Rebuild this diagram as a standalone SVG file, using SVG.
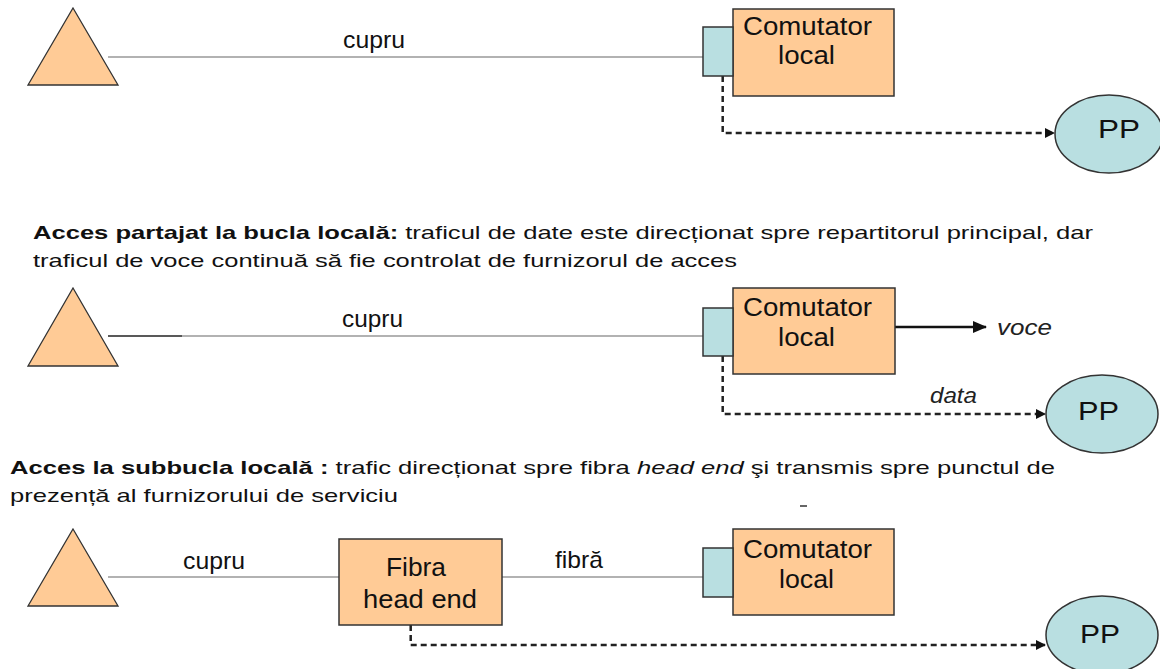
<svg xmlns="http://www.w3.org/2000/svg" width="1160" height="669" viewBox="0 0 1160 669">
<style>
text{font-family:"Liberation Sans",Arial,sans-serif;fill:#111}
.node{fill:#FFCB96;stroke:#333;stroke-width:1.5}
.port{fill:#B9DFE1;stroke:#333;stroke-width:1.5}
.pp{fill:#B9DFE1;stroke:#333;stroke-width:1.5}
.tri{fill:#FFCB96;stroke:#333;stroke-width:1.3}
.wire{stroke:#999;stroke-width:1.6;fill:none}
.dash{stroke:#222;stroke-width:2.5;stroke-dasharray:6 4;fill:none}
.lbl{font-size:24px}
.big{font-size:25px}
.cap{font-size:19px}
.it{font-style:italic;font-size:22px;fill:#222}
</style>
<defs>
<marker id="ah" markerWidth="10" markerHeight="10" refX="9" refY="5" orient="auto" markerUnits="userSpaceOnUse">
<path d="M0,0 L10,5 L0,10 Z" fill="#111"/>
</marker>
<marker id="ah2" markerWidth="14" markerHeight="12" refX="13" refY="6" orient="auto" markerUnits="userSpaceOnUse">
<path d="M0,0 L14,6 L0,12 Z" fill="#111"/>
</marker>
</defs>

<g id="connectors">
<line class="wire" x1="108" y1="57" x2="703" y2="57"/>
<path class="dash" d="M722.7,76 V133 H1054" marker-end="url(#ah)"/>
<line class="wire" x1="182" y1="336" x2="703" y2="336"/>
<line x1="108" y1="336" x2="182" y2="336" stroke="#222" stroke-width="1.6"/>
<line x1="895" y1="327" x2="986" y2="327" stroke="#111" stroke-width="2.5" marker-end="url(#ah2)"/>
<path class="dash" d="M722.7,356 V414 H1045" marker-end="url(#ah)"/>
<line class="wire" x1="108" y1="577" x2="339" y2="577"/>
<line class="wire" x1="502" y1="577" x2="703" y2="577"/>
<path class="dash" d="M410.7,625 V645 H1045" marker-end="url(#ah)"/>
</g>

<g id="labels">
<text class="lbl" x="343" y="48" textLength="62" lengthAdjust="spacingAndGlyphs">cupru</text>
<text class="lbl" x="342" y="327" textLength="61" lengthAdjust="spacingAndGlyphs">cupru</text>
<text class="it" x="997" y="335" textLength="55" lengthAdjust="spacingAndGlyphs">voce</text>
<text class="it" x="930" y="403" textLength="47" lengthAdjust="spacingAndGlyphs">data</text>
<text class="lbl" x="183" y="569" textLength="62" lengthAdjust="spacingAndGlyphs">cupru</text>
<text class="lbl" x="555" y="568" textLength="48" lengthAdjust="spacingAndGlyphs">fibră</text>
</g>

<g id="caption1">
<text class="cap" x="33" y="239" textLength="1060" lengthAdjust="spacingAndGlyphs"><tspan font-weight="bold">Acces partajat la bucla locală:</tspan> traficul de date este direcționat spre repartitorul principal, dar</text>
<text class="cap" x="33" y="267" textLength="704" lengthAdjust="spacingAndGlyphs">traficul de voce continuă să fie controlat de furnizorul de acces</text>
</g>
<g id="caption2">
<text class="cap" x="10" y="474" textLength="1045" lengthAdjust="spacingAndGlyphs"><tspan font-weight="bold">Acces la subbucla locală :</tspan> trafic direcționat spre fibra <tspan font-style="italic">head end</tspan> şi transmis spre punctul de</text>
<text class="cap" x="10" y="502" textLength="388" lengthAdjust="spacingAndGlyphs">prezență al furnizorului de serviciu</text>
<line x1="800" y1="506" x2="807" y2="506" stroke="#333" stroke-width="1.5"/>
</g>

<!-- Diagram 1 -->
<g id="user1"><polygon class="tri" points="73,8 118,85 28,85"/></g>
<g id="switch1">
<rect class="node" x="733" y="9" width="161" height="87"/>
<rect class="port" x="703" y="27" width="30" height="49"/>
<text class="big" x="743" y="35" textLength="129" lengthAdjust="spacingAndGlyphs">Comutator</text>
<text class="big" x="778" y="64" textLength="57" lengthAdjust="spacingAndGlyphs">local</text>
</g>
<g id="pp1">
<ellipse class="pp" cx="1109" cy="134" rx="54" ry="39"/>
<text class="big" x="1098" y="138" font-size="26" textLength="42" lengthAdjust="spacingAndGlyphs">PP</text>
</g>

<!-- Diagram 2 -->
<g id="user2"><polygon class="tri" points="73,288 118,366 28,366"/></g>
<g id="switch2">
<rect class="node" x="733" y="288" width="162" height="86"/>
<rect class="port" x="703" y="308" width="30" height="48"/>
<text class="big" x="743" y="316" textLength="129" lengthAdjust="spacingAndGlyphs">Comutator</text>
<text class="big" x="778" y="346" textLength="57" lengthAdjust="spacingAndGlyphs">local</text>
</g>
<g id="pp2">
<ellipse class="pp" cx="1102" cy="414" rx="56" ry="39"/>
<text class="big" x="1078" y="420" font-size="26" textLength="41" lengthAdjust="spacingAndGlyphs">PP</text>
</g>

<!-- Diagram 3 -->
<g id="user3"><polygon class="tri" points="73,529 118,606 28,606"/></g>
<g id="fiber">
<rect class="node" x="339" y="539" width="163" height="86"/>
<text class="big" x="386" y="576" textLength="60" lengthAdjust="spacingAndGlyphs">Fibra</text>
<text class="big" x="363" y="608" textLength="114" lengthAdjust="spacingAndGlyphs">head end</text>
</g>
<g id="switch3">
<rect class="node" x="733" y="529" width="161" height="86"/>
<rect class="port" x="703" y="548" width="30" height="49"/>
<text class="big" x="743" y="558" textLength="129" lengthAdjust="spacingAndGlyphs">Comutator</text>
<text class="big" x="779" y="588" textLength="55" lengthAdjust="spacingAndGlyphs">local</text>
</g>
<g id="pp3">
<ellipse class="pp" cx="1102" cy="635" rx="56" ry="39"/>
<text class="big" x="1080" y="643" font-size="26" textLength="40" lengthAdjust="spacingAndGlyphs">PP</text>
</g>
</svg>
